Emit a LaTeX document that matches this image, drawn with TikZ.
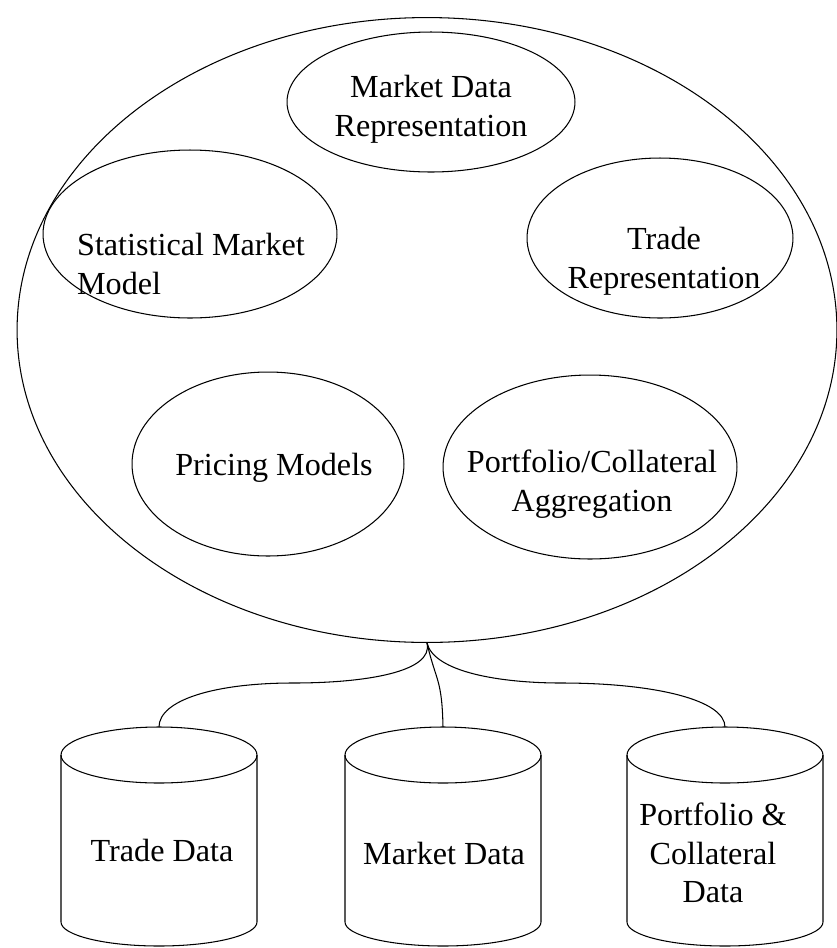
\documentclass[tikz,border=0pt]{standalone}
\usepackage{fontspec}
\setmainfont{Liberation Serif}
\usetikzlibrary{shapes.geometric}
\begin{document}
\begin{tikzpicture}[x=0.02cm,y=-0.02cm,
  line/.style={draw=black, line width=0.6pt},
  oval/.style={ellipse, line, inner sep=0pt},
  lbl/.style={font=\fontsize{18.3}{22}\selectfont, align=center, inner sep=0pt},
  conn/.style={line}]
\useasboundingbox (0,0) rectangle (837,948);
% system ellipse
\node[oval, minimum width=16.4cm, minimum height=12.5cm] (sys) at (427,330) {};
% inner ellipses
\node[oval, minimum width=5.76cm, minimum height=2.8cm] (mdr) at (431,102) {};
\node[oval, minimum width=5.88cm, minimum height=3.36cm] (smm) at (190,234) {};
\node[oval, minimum width=5.32cm, minimum height=3.2cm] (tr) at (660,238) {};
\node[oval, minimum width=5.44cm, minimum height=3.68cm] (pm) at (268,464) {};
\node[oval, minimum width=5.88cm, minimum height=3.68cm] (pca) at (590,467) {};
\node[lbl] (mdrt) at (431,109) {Market Data\\Representation};
\node[lbl, align=left] (smmt) at (191,264) {Statistical Market\\Model};
\node[lbl] (trt) at (664,261) {Trade\\Representation};
\node[lbl] (pmt) at (274,468) {Pricing Models};
\node[lbl] (pcat) at (592,484) {Portfolio/Collateral\\Aggregation};
% cylinders
\foreach \cx/\nm in {159/td,443/md,725/pd}{
  \draw[line] (\cx,755) ellipse [x radius=98, y radius=28];
  \draw[line] (\cx-98,755) -- (\cx-98,922) arc[start angle=180, end angle=0, x radius=98, y radius=24] -- (\cx+98,755);
  \coordinate (\nm) at (\cx,727);
}
\node[lbl] (tdt) at (162,850) {Trade Data};
\node[lbl] (mdt) at (444,853) {Market Data};
\node[lbl] (pdt) at (713,853) {Portfolio \&\\Collateral\\Data};
% connectors
\draw[conn] (sys.south) .. controls (434,672) and (365,683) .. (293,683)
  .. controls (215,683) and (159,700) .. (td);
\draw[conn] (sys.south) .. controls (436,682) and (442,678) .. (md);
\draw[conn] (sys.south) .. controls (434,672) and (500,683) .. (561,683)
  .. controls (655,683) and (725,700) .. (pd);
\end{tikzpicture}
\end{document}
